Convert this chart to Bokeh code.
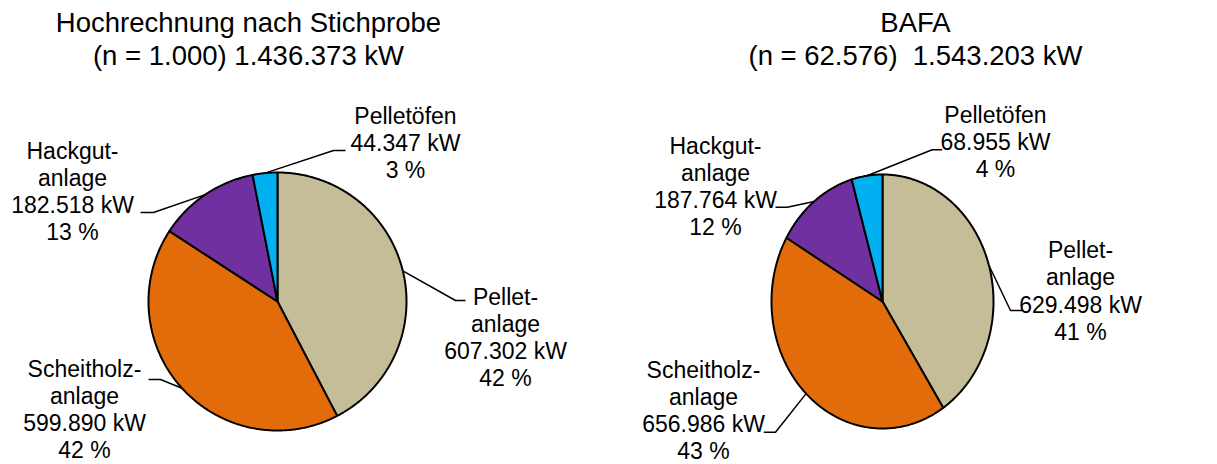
import numpy as np
from bokeh.plotting import figure
from bokeh.models import Range1d
from bokeh.core.properties import value
from bokeh.embed import file_html
from bokeh.resources import INLINE

# ---- data ----
categories = ["Pellet-\nanlage", "Scheitholz-\nanlage", "Hackgut-\nanlage", "Pelletöfen"]
colors = ["#C4BD97", "#E36C0A", "#7030A0", "#00B0F0"]
stichprobe_kw = [607302, 599890, 182518, 44347]
bafa_kw = [629498, 656986, 187764, 68955]
title_left = ["Hochrechnung nach Stichprobe", "(n = 1.000) 1.436.373 kW"]
title_right = ["BAFA", "(n = 62.576)\u00a0 1.543.203 kW"]

FONT = value("Liberation Sans")
W, H = 1217, 464

p = figure(width=W, height=H, output_backend="svg", toolbar_location=None,
           x_range=Range1d(0, W), y_range=Range1d(H, 0), min_border=0)
p.axis.visible = False
p.grid.visible = False
p.outline_line_color = None
p.background_fill_color = "white"
p.border_fill_color = "white"


def fmt(v):
    return f"{v:,}".replace(",", ".")


def draw_pie(vals, cx, cy, rx, ry, label_xy, elbows, ends, title, tx):
    arr = np.array(vals, dtype=float)
    fr = arr / arr.sum()
    cum = np.concatenate([[0.0], np.cumsum(fr)]) * 2 * np.pi
    xs, ys = [], []
    for a0, a1 in zip(cum[:-1], cum[1:]):
        n = max(int((a1 - a0) / np.radians(0.5)), 2) + 1
        t = np.linspace(a0, a1, n)
        xs.append([cx] + list(cx + rx * np.sin(t)))
        ys.append([cy] + list(cy - ry * np.cos(t)))
    mids = (cum[:-1] + cum[1:]) / 2
    sx = cx + rx * np.sin(mids)
    sy = cy - ry * np.cos(mids)
    lx = [[sx[i], elbows[i][0], ends[i][0]] for i in range(len(vals))]
    ly = [[sy[i], elbows[i][1], ends[i][1]] for i in range(len(vals))]
    p.multi_line(lx, ly, line_color="black", line_width=1.5)
    p.patches(xs, ys, fill_color=colors, line_color="black", line_width=2)
    texts = [f"{c}\n{fmt(v)} kW\n{round(f * 100)} %" for c, v, f in zip(categories, vals, fr)]
    p.text([q[0] for q in label_xy], [q[1] for q in label_xy], text=texts,
           text_font=FONT, text_font_size="23px", text_align="center",
           text_baseline="middle", text_line_height=1.05, text_color="black")
    p.text([tx, tx], [22, 55], text=title, text_font=FONT, text_font_size="27.5px",
           text_align="center", text_baseline="middle", text_color="black")


draw_pie(stichprobe_kw, 277, 301, 129, 129,
         label_xy=[(505, 337), (84, 409), (72, 191), (405, 142.5)],
         elbows=[(455, 300), (160, 379), (153, 212), (333, 150)],
         ends=[(465, 300), (148, 379), (140, 212), (345, 150)],
         title=title_left, tx=248)

draw_pie(bafa_kw, 882, 301, 111, 127,
         label_xy=[(1080, 290.5), (703, 410), (715, 186), (995, 141.5)],
         elbows=[(1010, 310), (775, 431.7), (786.7, 206.7), (931.7, 149.3)],
         ends=[(1021.7, 310), (763.3, 431.7), (775, 206.7), (941.7, 149.3)],
         title=title_right, tx=915)

open("out.html", "w").write(file_html(p, INLINE))
